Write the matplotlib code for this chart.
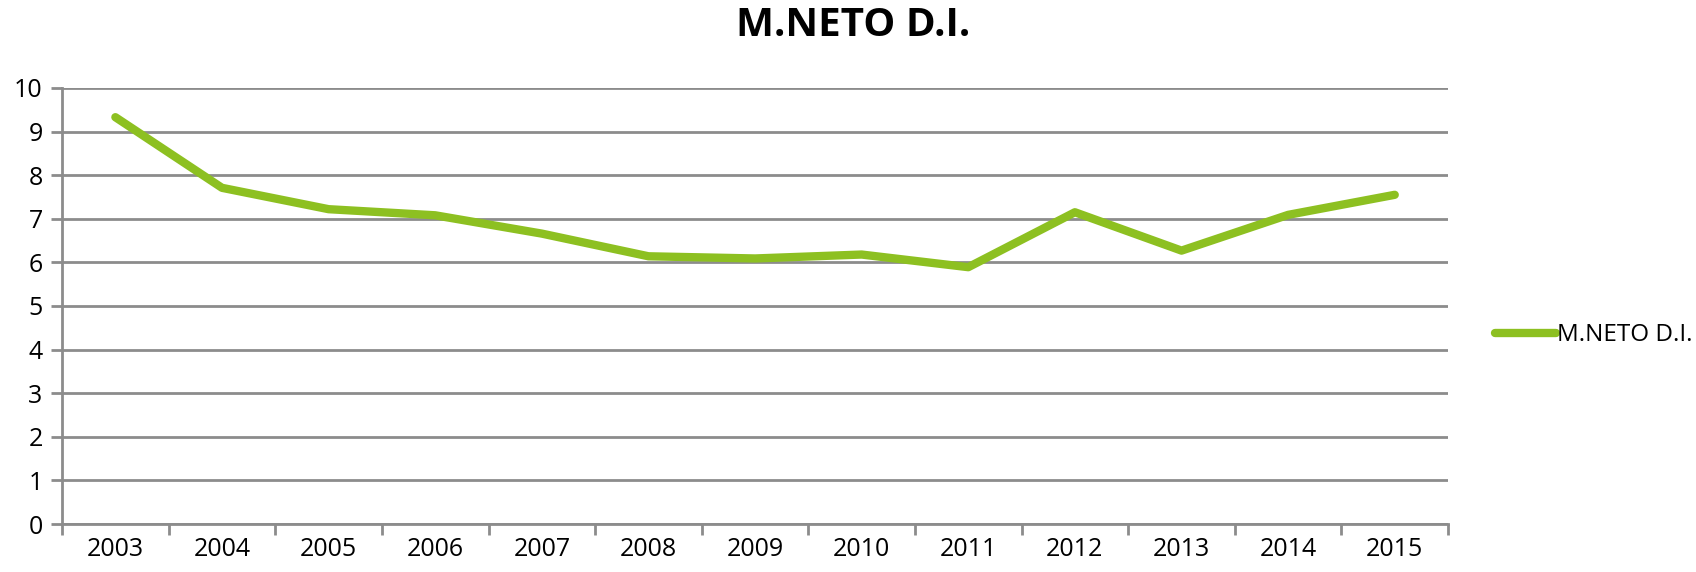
import numpy as np
import matplotlib.pyplot as plt

years = ['2003', '2004', '2005', '2006', '2007', '2008', '2009',
         '2010', '2011', '2012', '2013', '2014', '2015']
values = [9.33, 7.71, 7.22, 7.08, 6.66, 6.14, 6.09,
          6.18, 5.89, 7.15, 6.27, 7.09, 7.55]
series_name = 'M.NETO D.I.'

plt.rcParams['font.family'] = ['Open Sans', 'DejaVu Sans']

fig = plt.figure(figsize=(16.96, 5.72), dpi=100)
ax = fig.add_axes([0.0366, 0.0839, 0.8172, 0.7623])

grid_color = '#8c8c8c'
x = np.arange(len(years))
ax.plot(x, values, color='#8dc021', linewidth=6, solid_capstyle='round',
        solid_joinstyle='round', label=series_name, zorder=3)

ax.set_xlim(-0.5, len(years) - 0.5)
ax.set_ylim(0, 10)
ax.set_yticks(range(0, 11))
ax.yaxis.grid(True, color=grid_color, linewidth=2)
ax.set_axisbelow(True)

# category labels centred, tick marks on the boundaries
ax.set_xticks(x)
ax.set_xticklabels(years)
ax.set_xticks(np.arange(-0.5, len(years) + 0.5, 1), minor=True)
ax.tick_params(axis='x', which='major', length=0, labelsize=18, pad=9)
ax.tick_params(axis='x', which='minor', length=8, width=2, color=grid_color)
ax.tick_params(axis='y', length=8, width=2, color=grid_color, labelsize=18, pad=6)

for side in ['top', 'right']:
    ax.spines[side].set_visible(False)
for side in ['left', 'bottom']:
    ax.spines[side].set_color(grid_color)
    ax.spines[side].set_linewidth(2)

fig.suptitle(series_name, fontsize=29, fontweight='bold', x=0.503, y=0.99)

ax.legend(loc='center left', bbox_to_anchor=(1.034, 0.433), frameon=False,
          fontsize=17.5, handlelength=2.5, handletextpad=0.05,
          borderpad=0, borderaxespad=0)

plt.savefig('out.png', dpi=100)
